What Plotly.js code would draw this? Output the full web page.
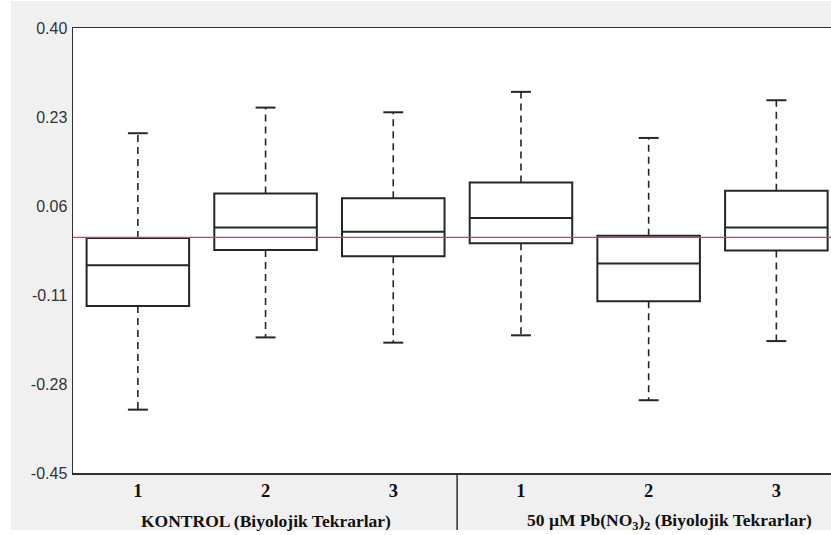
<!DOCTYPE html>
<html>
<head>
<meta charset="utf-8">
<script src="https://cdn.plot.ly/plotly-3.0.1.min.js"></script>
<style>html,body{margin:0;padding:0;background:#fff;}#chart{width:831px;height:535px;}</style>
</head>
<body>
<div id="chart"></div>
<script>
// Data
const positions = [1, 2, 3, 4, 5, 6];
const tickLabels = ['1', '2', '3', '1', '2', '3'];
const groupLabels = ['KONTROL (Biyolojik Tekrarlar)', '50 µM Pb(NO<sub>3</sub>)<sub>2</sub> (Biyolojik Tekrarlar)'];
const upperWhisker = [0.199, 0.248, 0.239, 0.278, 0.190, 0.262];
const q3Values     = [-0.001, 0.084, 0.075, 0.105, 0.003, 0.089];
const medianValues = [-0.053, 0.019, 0.011, 0.037, -0.050, 0.019];
const q1Values     = [-0.131, -0.024, -0.036, -0.011, -0.122, -0.025];
const lowerWhisker = [-0.329, -0.191, -0.201, -0.187, -0.311, -0.198];
const referenceLine = 0;
const yTicks = [0.40, 0.23, 0.06, -0.11, -0.28, -0.45];

const capHalf = 0.078;
const boxColor = '#262626';

// Box bodies (no whiskers: fences at quartiles)
const boxTrace = {
  type: 'box',
  x: positions,
  q1: q1Values,
  median: medianValues,
  q3: q3Values,
  lowerfence: q1Values,
  upperfence: q3Values,
  width: 0.803,
  whiskerwidth: 0,
  fillcolor: '#ffffff',
  line: {color: boxColor, width: 2},
  boxpoints: false,
  hoverinfo: 'skip',
  showlegend: false
};

// Dashed whiskers
const wx = [], wy = [];
positions.forEach((p, i) => {
  wx.push(p, p, null, p, p, null);
  wy.push(q3Values[i], upperWhisker[i], null, q1Values[i], lowerWhisker[i], null);
});
const whiskerTrace = {
  type: 'scatter', mode: 'lines', x: wx, y: wy,
  line: {color: boxColor, width: 1.6, dash: '7px,5px'},
  hoverinfo: 'skip', showlegend: false
};

// Whisker caps
const cx = [], cy = [];
positions.forEach((p, i) => {
  cx.push(p - capHalf, p + capHalf, null, p - capHalf, p + capHalf, null);
  cy.push(upperWhisker[i], upperWhisker[i], null, lowerWhisker[i], lowerWhisker[i], null);
});
const capTrace = {
  type: 'scatter', mode: 'lines', x: cx, y: cy,
  line: {color: boxColor, width: 2},
  hoverinfo: 'skip', showlegend: false
};

const H = 445; // plot height px
const layout = {
  width: 831, height: 535,
  margin: {l: 73, r: 0, t: 28, b: 62, pad: 0},
  paper_bgcolor: '#f0f0f0',
  plot_bgcolor: '#ffffff',
  showlegend: false,
  xaxis: {
    range: [0.492, 6.428],
    tickvals: positions,
    ticktext: tickLabels.map(t => '<b>' + t + '</b>'),
    ticks: '',
    showgrid: false,
    zeroline: false,
    showline: true,
    mirror: true,
    linecolor: '#303030',
    linewidth: 1.5,
    tickfont: {family: 'Liberation Serif, Times New Roman, serif', size: 18.5, color: '#111'},
    ticklabelstandoff: 0,
    fixedrange: true
  },
  yaxis: {
    range: [-0.45, 0.40],
    tickvals: yTicks,
    ticktext: yTicks.map(v => v.toFixed(2)),
    ticks: '',
    showgrid: false,
    zeroline: false,
    showline: true,
    mirror: false,
    linecolor: '#303030',
    linewidth: 1.5,
    tickfont: {family: 'Liberation Sans, Arial, sans-serif', size: 16, color: '#333'},
    ticklabelstandoff: 1,
    fixedrange: true
  },
  shapes: [
    // white margins of the original image
    {type: 'rect', xref: 'paper', yref: 'paper', x0: -0.2, x1: (11 - 73) / 758, y0: -0.3, y1: 1.3, fillcolor: '#ffffff', line: {width: 0}, layer: 'below'},
    {type: 'rect', xref: 'paper', yref: 'paper', x0: -0.2, x1: 1.2, y0: (473 - 1) / H, y1: 1.3, fillcolor: '#ffffff', line: {width: 0}, layer: 'below'},
    {type: 'rect', xref: 'paper', yref: 'paper', x0: -0.2, x1: 1.2, y0: -0.3, y1: (473 - 530) / H, fillcolor: '#ffffff', line: {width: 0}, layer: 'below'},
    // group divider
    {type: 'line', xref: 'x', yref: 'paper', x0: 3.5, x1: 3.5, y0: 0, y1: (473 - 530) / H, line: {color: '#303030', width: 1.5}},
    // reference line
    {type: 'line', xref: 'paper', yref: 'y', x0: 0, x1: 1, y0: referenceLine, y1: referenceLine, line: {color: '#e83a3a', width: 1.3}, layer: 'above'}
  ],
  annotations: [
    {xref: 'x', yref: 'paper', x: 2, y: (473 - 521) / H, text: '<b>' + groupLabels[0] + '</b>', showarrow: false, xanchor: 'center', yanchor: 'middle',
     font: {family: 'Liberation Serif, Times New Roman, serif', size: 17.5, color: '#111'}},
    {xref: 'x', yref: 'paper', x: 5.16, y: (473 - 521) / H, text: '<b>' + groupLabels[1] + '</b>', showarrow: false, xanchor: 'center', yanchor: 'middle',
     font: {family: 'Liberation Serif, Times New Roman, serif', size: 17.5, color: '#111'}}
  ]
};

Plotly.newPlot('chart', [boxTrace, whiskerTrace, capTrace], layout, {displayModeBar: false, staticPlot: true});
</script>
</body>
</html>
